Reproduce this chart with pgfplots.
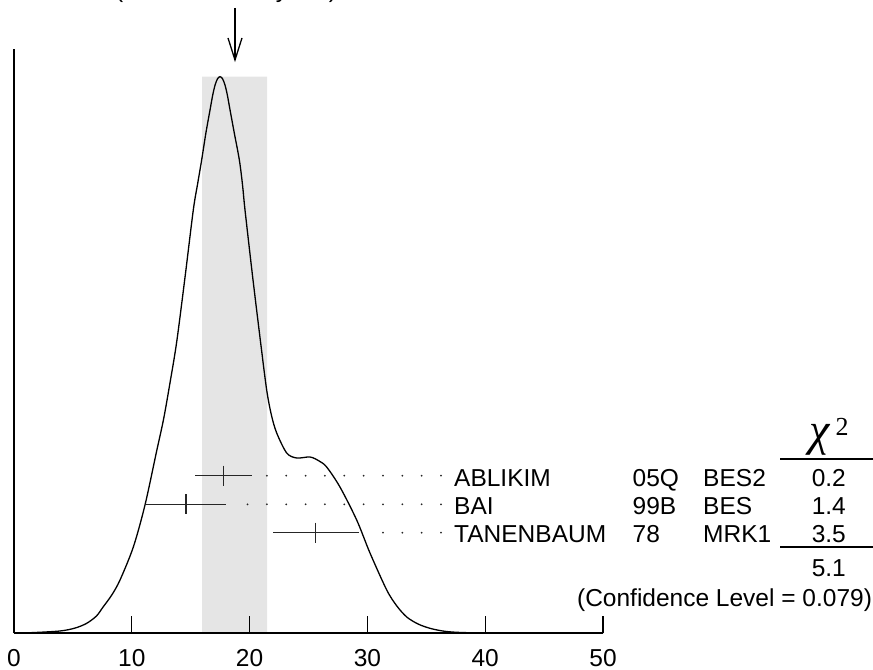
\documentclass[border=0pt]{standalone}
\usepackage{fontspec}
\setmainfont{Liberation Sans}
\newfontfamily\timesfont{Liberation Serif}
\usepackage{pgfplots}
\pgfplotsset{compat=1.18}

\definecolor{band}{RGB}{229,229,229}
\newcommand{\lab}{\fontsize{24.5}{29}\selectfont}

\begin{document}
\begin{tikzpicture}
\begin{axis}[
  x=11.78pt, y=1pt,
  xmin=0, xmax=50, ymin=0, ymax=583.7,
  axis x line=bottom, axis y line=left,
  axis line style={-, line width=1.4pt},
  xtick={0,10,...,50}, ytick=\empty,
  tick align=inside, major tick length=17.5pt,
  tick style={line width=1.3pt, black},
  xticklabel style={font=\lab, anchor=base, yshift=-33.7pt},
  /pgf/number format/assume math mode=true,
  axis on top=true,
  clip=false,
]
  % scaled error band round the weighted average
  \addplot[fill=band, draw=none] coordinates {
    (15.96,0) (15.96,556.3) (21.48,556.3) (21.48,0)} \closedcycle;

  % ideogram
  \addplot[smooth, tension=0.5, line width=1.3pt] coordinates {
    (0,0) (1.4,0.3) (3.9,2) (5.2,5) (6.17,9.7) (7.0,17) (7.58,26.3)
    (8.3,38) (9.0,53) (10.13,86) (11.12,128) (12.11,182)
    (12.7,214) (13.24,250) (13.81,291) (14.52,356) (15.22,423)
    (15.6,450) (15.93,473) (16.29,500) (16.64,523) (16.87,538)
    (17.07,548) (17.28,554.3) (17.49,556.3) (17.70,554.3) (17.91,548)
    (18.11,538) (18.34,523) (18.70,500) (19.13,473) (19.40,448)
    (19.61,423) (20.26,356) (20.94,290) (21.45,243) (21.85,218)
    (22.30,200) (23.15,180) (24.0,175) (25.13,176) (25.9,172)
    (26.54,166) (27.67,146) (29.09,113) (30.22,80) (31.64,43)
    (32.5,27) (33.34,16) (34.3,9) (35.31,4.7) (36.4,2) (37.58,0.7)
    (40,0) (45,0) (50,0)};

  % measurements
  \addplot[only marks, black!85, mark=|, mark size=10pt,
    mark options={line width=1.5pt},
    error bars/.cd, x dir=both, x explicit, error mark=none,
    error bar style={line width=1.5pt}] coordinates {
    (17.8,157.3) +- (2.4,0)
    (14.6,128.7) +- (3.4,0)
    (25.6,100.3) +- (3.65,0)};

  % dotted leaders
  \addplot[line width=2pt, line cap=round, dash pattern=on 0pt off 19.35pt, black!85]
    coordinates {(36.25,157.3) (21.3,157.3)};
  \addplot[line width=2pt, line cap=round, dash pattern=on 0pt off 19.35pt, black!85]
    coordinates {(36.25,128.7) (19.6,128.7)};
  \addplot[line width=2pt, line cap=round, dash pattern=on 0pt off 19.35pt, black!85]
    coordinates {(36.25,100.3) (31.0,100.3)};

  % arrow at the weighted average
  \addplot[line width=1.3pt] coordinates {(18.76,625) (18.76,573)};
  \addplot[line width=1.3pt] coordinates {(18.166,595) (18.76,573) (19.354,595)};

  % title (mostly above the page)
  \node[anchor=base, inner sep=0, font=\lab] at (axis cs:18.76,665) {WEIGHTED AVERAGE};
  \node[anchor=base east, inner sep=0, font=\lab] at (axis cs:27.45,635)
    {18.7±2.8 (Error scaled by 1.6)};

  % table of measurements
  \node[anchor=base west, inner sep=0, font=\lab] at (axis cs:37.35,147) {ABLIKIM};
  \node[anchor=base west, inner sep=0, font=\lab] at (axis cs:52.50,147) {05Q};
  \node[anchor=base west, inner sep=0, font=\lab] at (axis cs:58.49,147) {BES2};
  \node[anchor=base east, inner sep=0, font=\lab] at (axis cs:70.63,147) {0.2};

  \node[anchor=base west, inner sep=0, font=\lab] at (axis cs:37.35,119) {BAI};
  \node[anchor=base west, inner sep=0, font=\lab] at (axis cs:52.50,119) {99B};
  \node[anchor=base west, inner sep=0, font=\lab] at (axis cs:58.49,119) {BES};
  \node[anchor=base east, inner sep=0, font=\lab] at (axis cs:70.63,119) {1.4};

  \node[anchor=base west, inner sep=0, font=\lab] at (axis cs:37.35,90.3) {TANENBAUM};
  \node[anchor=base west, inner sep=0, font=\lab] at (axis cs:52.50,90.3) {78};
  \node[anchor=base west, inner sep=0, font=\lab] at (axis cs:58.49,90.3) {MRK1};
  \node[anchor=base east, inner sep=0, font=\lab] at (axis cs:70.63,90.3) {3.5};

  \node[anchor=base west, inner sep=0, font=\timesfont\itshape\fontsize{46}{46}\selectfont] at (axis cs:67.55,188) {χ};
  \node[anchor=base west, inner sep=0, font=\timesfont\fontsize{26}{26}\selectfont] at (axis cs:69.72,198) {2};
  \draw[line width=1.3pt] (axis cs:65.03,174) -- (axis cs:72.92,174);
  \draw[line width=1.3pt] (axis cs:65.03,86) -- (axis cs:72.92,86);
  \node[anchor=base east, inner sep=0, font=\lab] at (axis cs:70.63,57) {5.1};
  \node[anchor=base east, inner sep=0, font=\lab] at (axis cs:72.85,26.3) {(Confidence Level = 0.079)};

  \coordinate (bbsw) at (axis cs:-1.1885,-36);
  \coordinate (bbne) at (axis cs:72.92,633);
\end{axis}
\pgfresetboundingbox
\useasboundingbox (bbsw) rectangle (bbne);
\end{tikzpicture}
\end{document}
